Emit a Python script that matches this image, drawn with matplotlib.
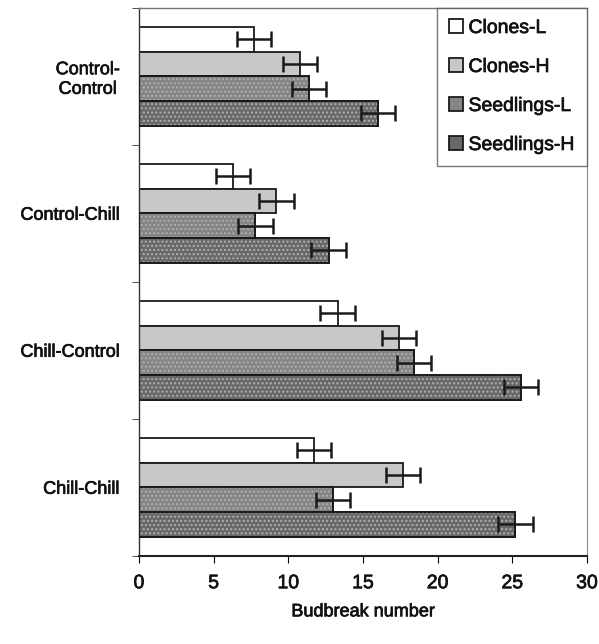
import matplotlib
matplotlib.use('Agg')
import matplotlib.pyplot as plt
import matplotlib.patheffects as pe
import numpy as np

plt.rcParams['font.family'] = ['Liberation Sans', 'DejaVu Sans']

treatments = ['Control-\nControl', 'Control-Chill', 'Chill-Control', 'Chill-Chill']
series = ['Clones-L', 'Clones-H', 'Seedlings-L', 'Seedlings-H']

clones_l = [7.7, 6.3, 13.3, 11.7]
clones_h = [10.8, 9.2, 17.4, 17.7]
seedlings_l = [11.4, 7.8, 18.4, 13.0]
seedlings_h = [16.0, 12.7, 25.6, 25.2]

clones_l_err = [1.15, 1.15, 1.15, 1.15]
clones_h_err = [1.15, 1.15, 1.15, 1.15]
seedlings_l_err = [1.15, 1.15, 1.15, 1.15]
seedlings_h_err = [1.15, 1.15, 1.15, 1.15]

values = [clones_l, clones_h, seedlings_l, seedlings_h]
errors = [clones_l_err, clones_h_err, seedlings_l_err, seedlings_h_err]
fills = ['white', '#c8c8c8', '#858585', '#686868']
hatches = [None, None, '....', '....']

# slightly heavier text, like a printed figure
heavy = [pe.withStroke(linewidth=0.5, foreground='#111')]

fig = plt.figure(figsize=(5.99, 6.44), dpi=100)
ax = fig.add_axes([0.232, 0.137, 0.748, 0.851])

y = np.arange(len(treatments))
h = 0.18
offsets = [-0.27, -0.09, 0.09, 0.27]

for vals, errs, fc, hat, off, name in zip(values, errors, fills, hatches, offsets, series):
    ax.barh(y + off, vals, height=h, color=fc, edgecolor='#1a1a1a',
            linewidth=1.3, label=name, zorder=2)
    if hat:
        # light dot texture on the darker bars
        ax.barh(y + off, vals, height=h, color='none', edgecolor='#b0b0b0',
                hatch=hat, linewidth=0, zorder=2.5)
        ax.barh(y + off, vals, height=h, color='none', edgecolor='#1a1a1a',
                linewidth=1.3, zorder=2.6)
    ax.errorbar(vals, y + off, xerr=errs, fmt='none', ecolor='#1a1a1a',
                elinewidth=1.8, capsize=6, capthick=1.8, zorder=3)

ax.set_xlim(0, 30)
ax.set_ylim(3.5, -0.5)
ax.set_xticks(np.arange(0, 31, 5))
ax.set_yticks(y)
ax.set_yticklabels(treatments, fontsize=13, ha='right', multialignment='center',
                   color='#111')
ax.tick_params(axis='y', which='major', length=0, pad=14)
ax.set_yticks([-0.5, 0.5, 1.5, 2.5, 3.5], minor=True)
ax.tick_params(axis='y', which='minor', length=5, direction='out', color='#333')
ax.tick_params(axis='x', labelsize=14, length=5, direction='out', pad=9,
               labelcolor='#111')
ax.set_xlabel('Budbreak number', fontsize=13, labelpad=8, color='#111')

for t in ax.get_xticklabels() + ax.get_yticklabels() + [ax.xaxis.label]:
    t.set_path_effects(heavy)

ax.spines['top'].set_color('#777')
ax.spines['top'].set_linestyle((0, (2, 1)))
ax.spines['top'].set_linewidth(1.0)
ax.spines['right'].set_color('#888')
ax.spines['right'].set_linestyle((0, (1, 1)))
ax.spines['right'].set_linewidth(0.8)
ax.spines['left'].set_color('#333')
ax.spines['left'].set_linewidth(1.0)
ax.spines['bottom'].set_color('#222')
ax.spines['bottom'].set_linewidth(1.5)

handles, labels = ax.get_legend_handles_labels()
leg = ax.legend(handles[:4], labels[:4], loc='upper right', fontsize=14,
                frameon=True, fancybox=False, edgecolor='#555',
                handlelength=0.7, handleheight=0.7, handletextpad=0.3,
                borderaxespad=0, labelspacing=1.1, borderpad=0.6)
leg.get_frame().set_linewidth(1.0)
for t in leg.get_texts():
    t.set_color('#111')
    t.set_path_effects(heavy)

fig.savefig('out.png', dpi=100)
